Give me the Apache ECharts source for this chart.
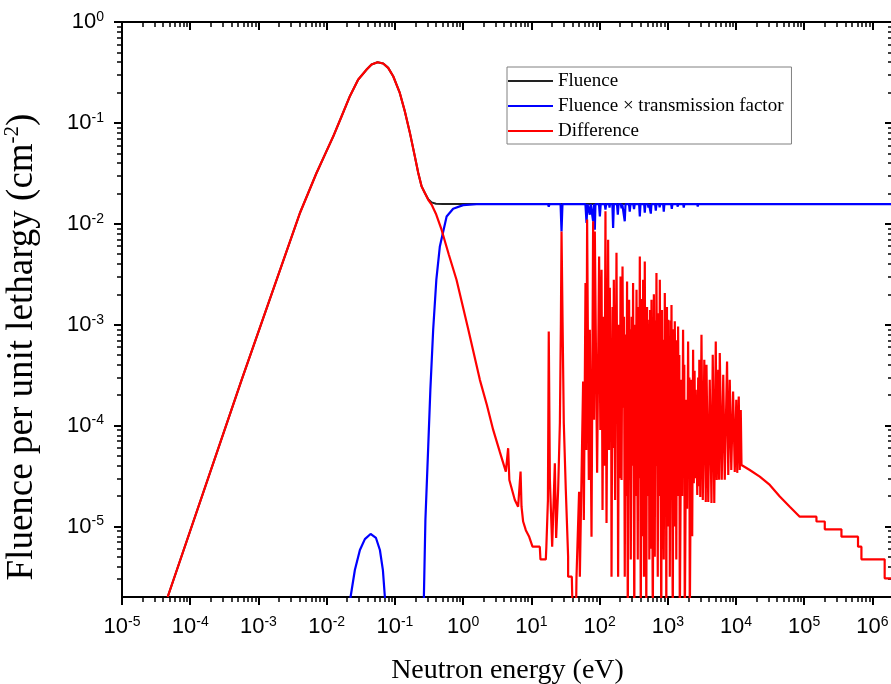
<!DOCTYPE html>
<html><head><meta charset="utf-8">
<script src="https://cdn.jsdelivr.net/npm/echarts@6/dist/echarts.min.js"></script>
<style>html,body{margin:0;padding:0;background:#fff}#c{width:891px;height:684px}</style>
</head><body><div id="c"></div>
<script>
// ---- axis ranges / tick exponents / texts ----
const xRange = [1e-5, 2e6];
const yRange = [2e-6, 1];
const xTickExponents = [-5, -4, -3, -2, -1, 0, 1, 2, 3, 4, 5, 6];
const yTickExponents = [-5, -4, -3, -2, -1, 0];
const seriesNames = ['Fluence', 'Fluence \u00d7 transmission factor', 'Difference'];
const xTitle = 'Neutron energy (eV)';
const yTitle = 'Fluence per unit lethargy (cm{s|-2})';

// ---- Fluence (black): [energy eV, fluence per unit lethargy] ----
const fluencePoints = [
 [4.67e-5, 2.0e-6], [5.67e-4, 2.84e-4], [4.06e-3, 0.0128], [5.37e-3, 0.0202], [7.1e-3, 0.0319],
 [9.42e-3, 0.0485], [0.0125, 0.0736], [0.01655, 0.1163], [0.0219, 0.184], [0.0290, 0.269],
 [0.0385, 0.338], [0.0455, 0.379], [0.0557, 0.399], [0.0674, 0.388], [0.0798, 0.351],
 [0.0944, 0.290], [0.118, 0.198], [0.140, 0.130], [0.166, 0.0796], [0.196, 0.0466],
 [0.22, 0.0319], [0.246, 0.0235], [0.275, 0.0202], [0.308, 0.0175], [0.345, 0.0163],
 [0.40, 0.0158], [0.50, 0.0157], [2e6, 0.0157]
];

// ---- Fluence x transmission factor (blue) ----
const transPoints = [
 [0.02, 1e-7], [0.0224, 2e-6], [0.0259, 3.7e-6], [0.0307, 5.85e-6], [0.0363, 7.5e-6], [0.044, 8.43e-6],
 [0.0528, 7.69e-6], [0.0603, 5.85e-6], [0.0667, 3.7e-6], [0.0713, 2e-6], [0.075, 1e-7],
 [0.25, 1e-7], [0.266, 2e-6], [0.280, 1.16e-5], [0.308, 6.19e-5], [0.331, 2.26e-4], [0.364, 8.9e-4],
 [0.405, 2.79e-3], [0.456, 5.97e-3], [0.573, 0.0118], [0.714, 0.0141], [1.0, 0.0153], [1.76, 0.0157],
 [17.5, 0.0157], [18.0, 0.0148], [18.5, 0.0157], [26.8, 0.0157], [27.7, 0.0084], [28.6, 0.0157],
 [62, 0.0157], [64.4, 0.0102], [66.5, 0.0157], [70.5, 0.0157], [72, 0.0123], [74, 0.0157],
 [78.5, 0.0157], [80.5, 0.0106], [82.5, 0.0157], [83.5, 0.0157], [85.2, 0.00874], [87, 0.0157],
 [98, 0.0157], [101, 0.0118], [104, 0.0157], [119, 0.0157], [122, 0.0138], [125, 0.0157],
 [138, 0.0157], [140, 0.0145], [142, 0.0157], [154, 0.0157], [158, 0.00908], [162, 0.0157],
 [180, 0.0157], [185, 0.0123], [190, 0.0157], [205, 0.0157], [210, 0.0142], [215, 0.0157],
 [228, 0.0157], [234, 0.0106], [240, 0.0157], [270, 0.0157], [277, 0.0132], [284, 0.0157],
 [312, 0.0157], [320, 0.0140], [328, 0.0157], [380, 0.0157], [389, 0.0118], [398, 0.0157],
 [450, 0.0157], [460, 0.0129], [470, 0.0157], [510, 0.0157], [520, 0.0145], [530, 0.0157],
 [552, 0.0157], [564, 0.0126], [576, 0.0157], [652, 0.0157], [667, 0.0135], [682, 0.0157],
 [745, 0.0157], [760, 0.0146], [775, 0.0157], [855, 0.0157], [873, 0.0132], [892, 0.0157],
 [980, 0.0157], [1000, 0.0150], [1020, 0.0157], [1120, 0.0157], [1145, 0.0141], [1170, 0.0157],
 [1370, 0.0157], [1400, 0.0148], [1430, 0.0157], [1680, 0.0157], [1714, 0.0145], [1750, 0.0157],
 [1960, 0.0157], [2000, 0.0150], [2040, 0.0157], [2700, 0.0157], [2750, 0.0148], [2800, 0.0157],
 [3430, 0.0157], [3500, 0.0152], [3570, 0.0157], [4330, 0.0157], [4410, 0.0151], [4490, 0.0157],
 [5880, 0.0157], [6000, 0.0154], [6120, 0.0157], [2e6, 0.0157]
];

// ---- Difference (red) ----
const diffPoints = [
 [4.67e-5, 2.0e-6], [5.67e-4, 2.84e-4], [4.06e-3, 0.0128], [5.37e-3, 0.0202], [7.1e-3, 0.0319],
 [9.42e-3, 0.0485], [0.0125, 0.0736], [0.01655, 0.1163], [0.0219, 0.184], [0.0290, 0.269],
 [0.0385, 0.338], [0.0455, 0.379], [0.0557, 0.399], [0.0674, 0.388], [0.0798, 0.351],
 [0.0944, 0.290], [0.118, 0.198], [0.140, 0.130], [0.166, 0.0796], [0.196, 0.0466],
 [0.22, 0.0319], [0.246, 0.0235], [0.275, 0.0202], [0.308, 0.0173], [0.345, 0.0155],
 [0.399, 0.0126], [0.483, 8.74e-3], [0.618, 4.93e-3], [0.80, 2.79e-3], [1.175, 9.3e-4],
 [1.76, 2.84e-4], [2.23, 1.60e-4], [2.76, 9.06e-5], [3.45, 5.48e-5], [4.23, 3.5e-5],
 [4.57, 5.97e-5], [4.76, 2.89e-5], [5.73, 1.83e-5], [6.4, 1.57e-5], [6.95, 3.5e-5],
 [7.18, 1.57e-5], [7.58, 1.12e-5], [8.3, 9.2e-6], [9.3, 7.9e-6], [10.4, 6.3e-6],
 [13.3, 6.3e-6], [13.6, 4.72e-6], [16.3, 4.72e-6], [16.6, 6.3e-6], [17.5, 1.83e-5],
 [18.0, 8.56e-4], [18.7, 2.89e-5], [20.2, 6.3e-6], [21.4, 6.3e-6], [22.1, 4.24e-5],
 [23.1, 7.69e-6], [24.7, 2.30e-5], [26.2, 1.06e-4], [27.1, 1.04e-3], [27.7, 8.4e-3],
 [28.7, 1.04e-3], [29.9, 1.06e-4], [32.0, 2.30e-5], [34.6, 5.0e-6], [34.6, 3.18e-6],
 [39.2, 3.18e-6], [40.6, 1.0e-6], [44.9, 1.0e-6], [45.9, 3.18e-6], [48.9, 3.18e-6],
 [50.1, 2.21e-5], [51.4, 3.18e-6], [54.4, 3.18e-6], [57.4, 2.73e-4], [58.8, 1.16e-5],
 [62.2, 2.59e-3], [64.0, 5.74e-5], [65.7, 0.011], [69.6, 2.89e-5], [72.0, 8.9e-4],
 [76.2, 7.9e-6], [80.5, 0.0106], [83.0, 1.14e-4], [85.2, 8.4e-3], [92.1, 3.4e-5],
 [98.5, 4.75e-3], [102.6, 9.06e-5], [106.9, 3.5e-3], [110.5, 1.46e-5], [114.5, 1.2e-3],
 [118, 4.0e-5], [122, 0.0133], [126.5, 1.08e-5], [133.5, 6.95e-3], [137.5, 5.74e-5],
 [141.3, 2.32e-3], [145.5, 2.0e-4], [147.5, 6.0e-4], [149.7, 3.18e-6], [155, 1.5e-3],
 [158.5, 6.0e-5], [161.8, 2.79e-3], [169, 1.83e-5], [177, 5.17e-3], [181.5, 2.0e-4],
 [183.5, 8.0e-4], [187, 3.18e-6], [193, 1.0e-3], [197.5, 3.0e-5], [203, 3.01e-3],
 [210, 2.89e-5], [217, 3.78e-3], [223, 1.5e-4], [228, 1.2e-3], [234, 3.18e-6],
 [241, 8.0e-4], [246, 2.0e-5], [253, 2.68e-3], [259, 1.0e-6], [271, 1.77e-3],
 [276.5, 1.0e-4], [281, 9.0e-4], [287, 4.7e-6], [296, 1.2e-3], [302, 4.0e-5],
 [310, 2.59e-3], [323, 1.0e-6], [330, 1.0e-3], [337, 2.0e-5], [348, 2.22e-3],
 [363, 4.7e-6], [372, 1.5e-3], [378, 3.0e-5], [389, 4.75e-3], [402, 1.0e-6],
 [414, 1.8e-3], [424, 8.0e-6], [435, 2.79e-3], [448, 3.18e-6], [460, 4.24e-3],
 [468, 1.5e-4], [476, 9.0e-4], [484, 1.0e-6], [497, 1.5e-3], [503, 2.0e-5],
 [509, 1.12e-3], [522, 1.0e-4], [529, 6.0e-4], [536, 4.7e-6], [550, 1.4e-3],
 [563, 6.0e-6], [577, 1.77e-3], [603, 1.0e-6], [625, 2.0e-3], [645, 5.0e-6],
 [656, 1.1e-3], [667, 4.0e-5], [682, 3.25e-3], [713, 3.18e-6], [733, 1.3e-3],
 [748, 2.0e-5], [764, 2.79e-3], [803, 1.0e-6], [822, 1.4e-3], [833, 6.0e-6],
 [845, 7.08e-4], [873, 4.7e-6], [904, 2.06e-3], [926, 1.0e-4], [938, 7.0e-4],
 [951, 1.0e-6], [972, 1.5e-3], [992, 1.0e-5], [1016, 1.12e-3], [1042, 3.0e-5],
 [1056, 5.0e-4], [1070, 3.18e-6], [1100, 1.1e-3], [1115, 5.0e-5], [1133, 1.57e-3],
 [1183, 1.0e-6], [1215, 9.0e-4], [1240, 1.0e-5], [1267, 1.08e-3], [1300, 4.0e-5],
 [1313, 4.0e-4], [1333, 4.7e-6], [1365, 7.0e-4], [1392, 2.0e-5], [1416, 9.6e-4],
 [1450, 6.0e-5], [1475, 5.0e-4], [1500, 1.0e-6], [1577, 2.84e-4], [1625, 2.0e-5],
 [1675, 8.9e-4], [1715, 5.0e-5], [1745, 4.0e-4], [1774, 1.0e-6], [1866, 1.8e-4],
 [1920, 1.5e-5], [1985, 6.8e-4], [2040, 4.0e-5], [2070, 3.0e-4], [2100, 1.0e-6],
 [2210, 2.84e-4], [2280, 8.0e-6], [2350, 5.64e-4], [2405, 2.68e-5], [2470, 3.5e-4],
 [2530, 3.0e-5], [2570, 2.26e-4], [2705, 2.05e-5], [2790, 3.0e-4], [2850, 2.5e-5],
 [2897, 4.49e-4], [2993, 1.96e-5], [3117, 7.94e-4], [3259, 1.83e-5], [3428, 4.49e-4],
 [3605, 1.75e-5], [3690, 4.0e-4], [3920, 1.75e-5], [4120, 2.84e-4], [4366, 1.71e-5],
 [4560, 5.03e-4], [4800, 1.71e-5], [5050, 6.8e-4], [5220, 2.89e-5], [5490, 3.57e-4],
 [5650, 2.9e-5], [5780, 5.23e-4], [6180, 2.9e-5], [6500, 3.18e-4], [6840, 2.9e-5],
 [7390, 4.31e-4], [7700, 3.24e-5], [8100, 2.84e-4], [8520, 3.63e-5], [9060, 2.17e-4],
 [9590, 3.47e-5], [10090, 1.8e-4], [10420, 3.4e-5], [10970, 1.94e-4], [11350, 3.63e-5],
 [11740, 1.43e-4], [12030, 4.07e-5], [15900, 3.63e-5], [22300, 3.12e-5], [31300, 2.58e-5],
 [43800, 1.98e-5], [61400, 1.57e-5], [85900, 1.25e-5], [151000, 1.25e-5], [151000, 1.12e-5],
 [200000, 1.12e-5], [200000, 9.38e-6], [351000, 9.38e-6], [351000, 7.92e-6], [614000, 7.92e-6],
 [614000, 6.3e-6], [689000, 6.3e-6], [689000, 4.72e-6], [1.51e6, 4.72e-6], [1.51e6, 3.06e-6],
 [2.0e6, 3.06e-6]
];

// ---- build ----
const L = Math.log10;
const toLog = P => P.map(p => [L(p[0]), L(p[1])]);
const xMin = L(xRange[0]), xMax = L(xRange[1]);
const yMin = L(yRange[0]), yMax = L(yRange[1]);
function minorTicks(lo, hi) {
  const out = [];
  for (let n = Math.floor(lo) - 1; n <= Math.ceil(hi); n++)
    for (let k = 2; k <= 9; k++) {
      const v = n + L(k);
      if (v > lo + 1e-9 && v < hi - 1e-9) out.push(v);
    }
  return out;
}
const xMinor = minorTicks(xMin, xMax);
const yMinor = minorTicks(yMin, yMax);

const SANS = 'Liberation Sans';
const SERIF = 'Liberation Serif';
const labelStyle = {
  fontFamily: SANS, fontSize: 22, color: '#000', lineHeight: 24,
  formatter: v => '10{s|' + Math.round(v) + '}',
  rich: { s: { fontFamily: SANS, fontSize: 14, color: '#000', verticalAlign: 'top', lineHeight: 14 } }
};

function axis(kind, pos, major, inside, withLabels) {
  const isX = kind === 'x';
  return {
    type: 'value', gridIndex: 0, position: pos,
    min: isX ? xMin : yMin, max: isX ? xMax : yMax,
    axisLine: { show: major, onZero: false, lineStyle: { color: '#000', width: 2 } },
    axisTick: {
      show: true, inside: inside, length: major ? 8 : 5,
      customValues: major ? (isX ? xTickExponents : yTickExponents) : (isX ? xMinor : yMinor),
      lineStyle: { color: '#000', width: major ? 2 : 1.5 }
    },
    axisLabel: withLabels ? Object.assign({ show: true, margin: 18,
      customValues: isX ? xTickExponents : yTickExponents }, labelStyle) : { show: false },
    splitLine: { show: false }
  };
}

const xAxes = [
  axis('x', 'bottom', true, false, true),
  axis('x', 'top', true, true, false),
  axis('x', 'bottom', false, false, false),
  axis('x', 'top', false, true, false)
];
Object.assign(xAxes[0], {
  name: xTitle, nameLocation: 'middle', nameGap: 60,
  nameTextStyle: { fontFamily: SERIF, fontSize: 28, color: '#000' }
});
const yAxes = [
  axis('y', 'left', true, false, true),
  axis('y', 'right', true, true, false),
  axis('y', 'left', false, false, false),
  axis('y', 'right', false, true, false)
];

const colors = ['#222222', '#0000ff', '#ff0000'];
const widths = [2, 2.2, 2.2];
const datasets = [toLog(fluencePoints), toLog(transPoints), toLog(diffPoints)];
const series = seriesNames.map((name, i) => ({
  name, type: 'line', xAxisIndex: 0, yAxisIndex: 0, data: datasets[i],
  showSymbol: false, symbol: 'none', clip: true,
  lineStyle: { color: colors[i], width: widths[i] },
  itemStyle: { color: colors[i] },
  emphasis: { disabled: true }
}));

const chart = echarts.init(document.getElementById('c'), null, { renderer: 'canvas' });
chart.setOption({
  animation: false,
  backgroundColor: '#fff',
  grid: { left: 122, top: 22, width: 771, height: 575, containLabel: false, outerBoundsMode: 'none' },
  xAxis: xAxes,
  yAxis: yAxes,
  legend: {
    data: seriesNames.map(n => ({ name: n, icon: 'rect' })),
    orient: 'vertical', left: 507, top: 67,
    itemWidth: 45, itemHeight: 2, itemGap: 3,
    padding: [3, 8, 2, 1], borderColor: '#808080', borderWidth: 1, backgroundColor: '#fff',
    textStyle: { fontFamily: SERIF, fontSize: 19, color: '#000', lineHeight: 22 },
    selectedMode: false
  },
  graphic: [{
    type: 'text', x: 22, y: 347, rotation: Math.PI / 2, silent: true,
    style: {
      text: yTitle, fontFamily: SERIF, fontSize: 37, fill: '#000',
      align: 'center', verticalAlign: 'middle', lineHeight: 40,
      rich: { s: { fontFamily: SERIF, fontSize: 21, fill: '#000', verticalAlign: 'top', lineHeight: 22 } }
    }
  }],
  series
});
</script></body></html>
